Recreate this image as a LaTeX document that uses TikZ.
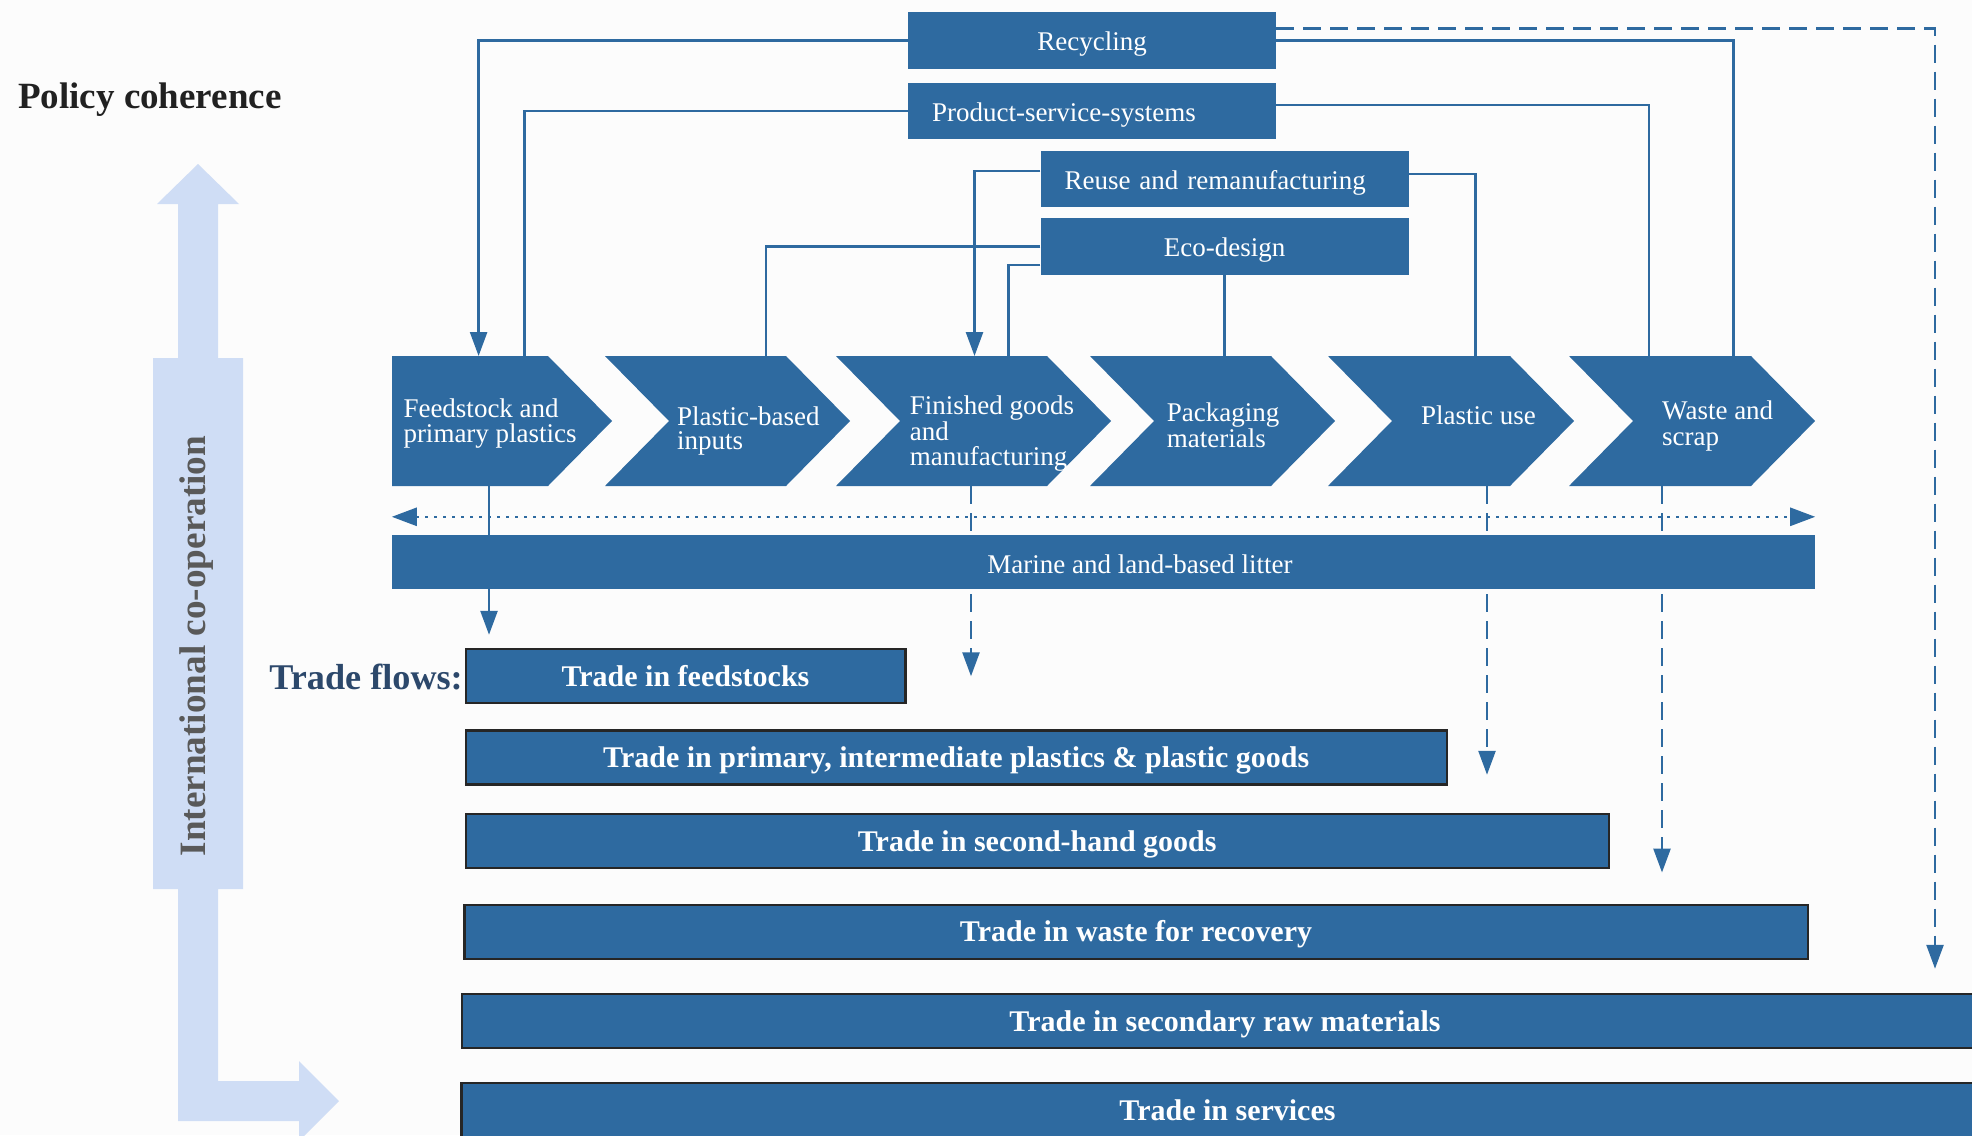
\documentclass[tikz,border=0pt]{standalone}
\usepackage{fontspec}
\setmainfont{Liberation Serif}
\usetikzlibrary{arrows.meta}
\definecolor{oecdblue}{RGB}{46,106,160}
\definecolor{coopblue}{RGB}{207,221,245}
\definecolor{flowblue}{RGB}{44,72,107}
\definecolor{bggray}{RGB}{252,252,252}
\begin{document}
\begin{tikzpicture}[x=1pt,y=-1pt,
  >={Triangle[width=17pt,length=24pt]},
  topbox/.style={fill=oecdblue, text=white, minimum width=368pt, minimum height=56.5pt, inner sep=0pt, text height=22pt, text depth=2pt, font=\fontsize{27}{30}\selectfont},
  chevbody/.style={minimum height=130pt, inner sep=0pt, outer sep=0pt},
  chevtext/.style={text=white, anchor=north west, align=left, inner sep=0pt},
  tradebox/.style={fill=oecdblue, draw=black!85, line width=2.5pt, text=white, minimum height=54pt, inner sep=0pt, text height=22pt, text depth=2pt, font=\bfseries\fontsize{30}{33}\selectfont},
  conn/.style={oecdblue, line width=2.6pt},
  dashconn/.style={conn, dash pattern=on 18pt off 9pt},
  dotconn/.style={conn, dash pattern=on 2.6pt off 6.4pt}]
\useasboundingbox (0,0) rectangle (1972,1135);
\clip (0,0) rectangle (1972,1135);
\fill[bggray] (0,0) rectangle (1972,1135);

% policy coherence / co-operation arrow
\fill[coopblue] (198,164) -- (239,204) -- (218,204) -- (218,358) -- (243,358) -- (243,889) -- (218,889) -- (218,1081) -- (299,1081) -- (299,1061) -- (339,1101) -- (299,1141) -- (299,1121) -- (178,1121) -- (178,889) -- (153,889) -- (153,358) -- (178,358) -- (178,204) -- (157,204) -- cycle;
\node[anchor=base west, inner sep=0pt, text=black!87, font=\bfseries\fontsize{37}{40}\selectfont] (policy) at (18,108) {Policy coherence};
\node[rotate=90, inner sep=0pt, text=black!65, font=\bfseries\fontsize{37.2}{40}\selectfont] (coop) at (197,646) {International co-operation};

% circular economy measures
\node[topbox] (recycle) at (1092,40.5) {Recycling};
\node[topbox, text width=320pt, align=left, inner xsep=24pt] (pss) at (1092,111) {Product-service-systems};
\node[topbox, text width=320pt, align=left, inner xsep=24pt] (reuse) at (1224.5,179) {Reuse and remanufacturing};
\node[topbox] (eco) at (1224.5,246.5) {Eco-design};

% value chain
\node[chevbody, minimum width=156pt] (feed) at (470,421) {};
\fill[oecdblue] (feed.north west) -- (feed.north east) -- ++(64,65) -- (feed.south east) -- (feed.south west) -- cycle;
\foreach \n/\l/\r in {inputs/605/786, finished/836/1047, pack/1090/1271, use/1328/1510, waste/1569/1751} {
  \node[chevbody, minimum width=\r-\l] (\n) at ({(\l+\r)/2},421) {};
  \fill[oecdblue] (\n.north west) -- (\n.north east) -- ++(64,65) -- (\n.south east) -- (\n.south west) -- ++(64,-65) -- cycle;
}
\node[chevtext, font=\fontsize{27}{24.4}\selectfont] (feedtxt) at (403.3,398.9) {Feedstock and\\primary plastics};
\node[chevtext, font=\fontsize{27}{24}\selectfont] (inputstxt) at (677,406.4) {Plastic-based\\inputs};
\node[chevtext, font=\fontsize{27}{25.5}\selectfont] (finishedtxt) at (909.6,395.6) {Finished goods\\and\\manufacturing};
\node[chevtext, font=\fontsize{27}{26.3}\selectfont] (packtxt) at (1166.7,402.6) {Packaging\\materials};
\node[chevtext, font=\fontsize{27}{26}\selectfont] (usetxt) at (1421,405.6) {Plastic use};
\node[chevtext, font=\fontsize{27}{26}\selectfont] (wastetxt) at (1662,400.6) {Waste and\\scrap};

% links from the measures
\draw[conn,->] (recycle.west) -| ([xshift=86.6pt]feed.north west);
\draw[conn] (recycle.east) -| ([xshift=164.7pt]waste.north west);
\draw[conn] (pss.west) -| ([xshift=132.5pt]feed.north west);
\draw[conn] ([yshift=6pt]pss.east) -| ([xshift=80pt]waste.north west);
\draw[conn,->] ([yshift=8pt]reuse.west) -| ([xshift=138.5pt]finished.north west);
\draw[conn] ([yshift=5pt]reuse.east) -| ([xshift=147.7pt]use.north west);
\draw[conn] (eco.west) -| ([xshift=161pt]inputs.north west);
\draw[conn] ([yshift=-18.5pt]eco.west) -| ([xshift=172.5pt]finished.north west);
\draw[conn] (eco.south) -- (eco.south |- pack.north);

% trade flows
\node[tradebox, minimum width=439.5pt] (tfeed) at (685.5,676) {Trade in feedstocks};
\node[tradebox, minimum width=981pt] (tprim) at (956.25,757.5) {Trade in primary, intermediate plastics \& plastic goods};
\node[tradebox, minimum width=1143pt] (tsecond) at (1037.25,841) {Trade in second-hand goods};
\node[tradebox, minimum width=1343.5pt] (twaste) at (1136,931.75) {Trade in waste for recovery};
\node[tradebox, minimum width=1526.5pt] (traw) at (1225,1021) {Trade in secondary raw materials};
\node[tradebox, minimum width=1532.5pt] (tserv) at (1227.5,1110) {Trade in services};
\node[anchor=base east, inner sep=0pt, text=flowblue, font=\bfseries\fontsize{36.2}{40}\selectfont] (flows) at (463,689) {Trade flows:};

\coordinate (d1) at ([xshift=97pt]feed.south west);
\coordinate (d3) at ([xshift=135pt]finished.south west);
\coordinate (d5) at ([xshift=159pt]use.south west);
\coordinate (d6) at ([xshift=93pt]waste.south west);
\coordinate (rc) at (1935,30);
\draw[conn,->,shorten >=13pt] (d1) -- (d1 |- tfeed.north);
\draw[dashconn,->,shorten >=53pt] (d3) -- (d3 |- tprim.north);
\draw[dashconn,->,shorten >=38pt] (d5) -- (d5 |- tsecond.north);
\draw[dashconn,->,shorten >=31pt] (d6) -- (d6 |- twaste.north);
\draw[dashconn,->,shorten >=24pt] ([yshift=12pt]recycle.east) -| (rc |- traw.north);

% litter
\node[fill=oecdblue, text=white, minimum width=1423pt, minimum height=54pt, inner sep=0pt, text height=23.4pt, text depth=0pt, font=\fontsize{27}{30}\selectfont] (litter) at (1103.5,562) {\hspace*{73pt}Marine and land-based litter};
\draw[dotconn,{Triangle[width=18pt,length=25pt]}-{Triangle[width=18pt,length=25pt]}] ([yshift=18pt]litter.north west) -- ([yshift=18pt]litter.north east);
\end{tikzpicture}
\end{document}
